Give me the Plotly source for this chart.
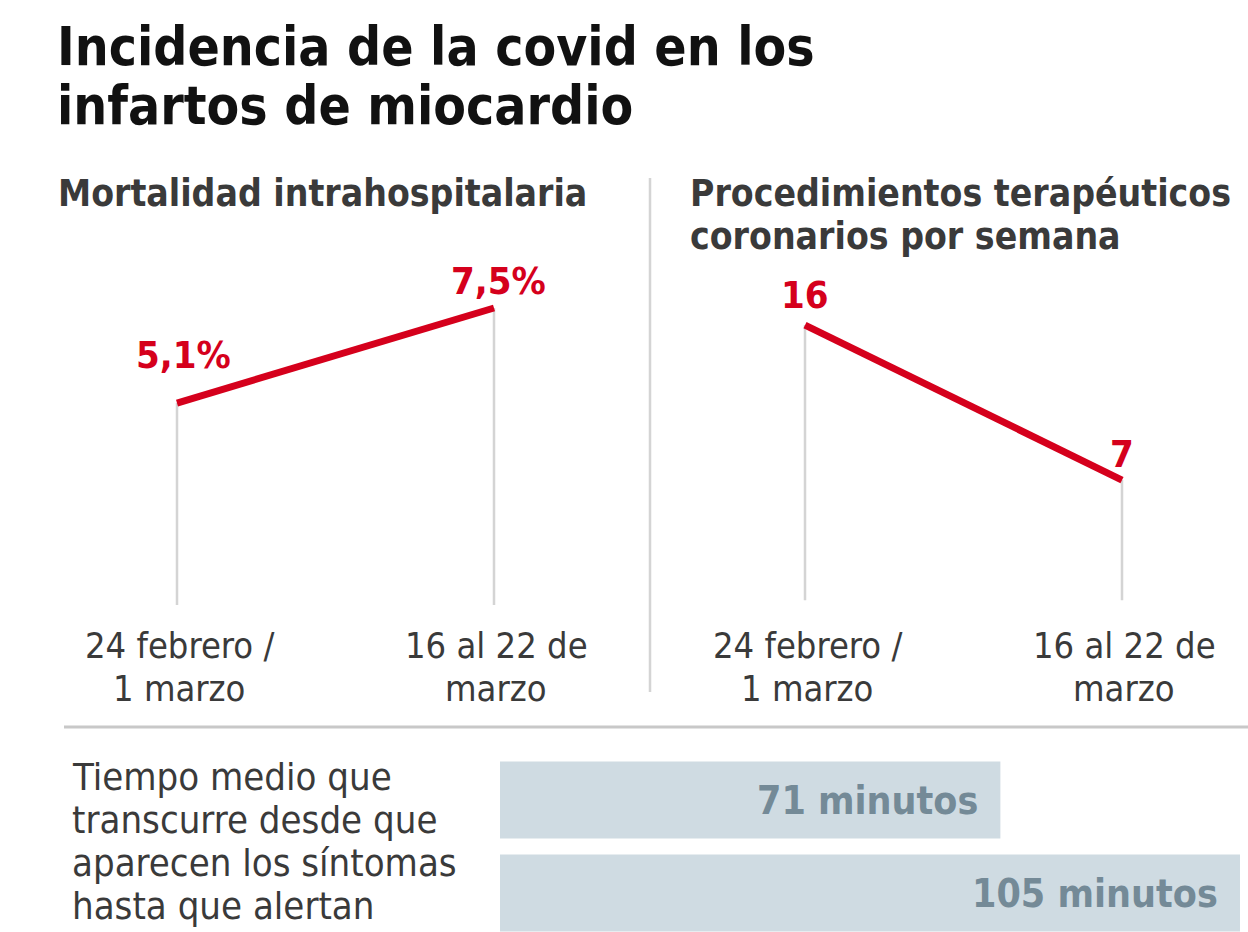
import plotly.graph_objects as go

W, H = 1248, 932

# ---- data ----
periods = ["24 febrero /<br>1 marzo", "16 al 22 de<br>marzo"]
mortalidad = [5.1, 7.5]
mortalidad_labels = ["5,1%", "7,5%"]
procedimientos = [16, 7]
procedimientos_labels = ["16", "7"]
tiempo_labels = ["71 minutos", "105 minutos"]
tiempo_values = [71, 105]

title_lines = ["Incidencia de la covid en los", "infartos de miocardio"]
sub_left = ["Mortalidad intrahospitalaria"]
sub_right = ["Procedimientos terapéuticos", "coronarios por semana"]
bottom_lines = ["Tiempo medio que", "transcurre desde que", "aparecen los síntomas", "hasta que alertan"]

RED = "#d5001c"
GREY_LINE = "#d4d4d4"
TXT = "#3a3a3a"
BAR = "#cfdbe2"
BAR_TXT = "#748a97"
FONT = "DejaVu Sans Condensed, DejaVu Sans, sans-serif"


def px(x):
    return x / W


def py(y):
    return 1 - y / H


fig = go.Figure()

xs = [0, 1]
# left panel
for i, v in enumerate(mortalidad):
    fig.add_trace(go.Scatter(x=[xs[i], xs[i]], y=[0, v], mode="lines",
                             line=dict(color=GREY_LINE, width=2.5),
                             xaxis="x", yaxis="y", showlegend=False, hoverinfo="skip"))
fig.add_trace(go.Scatter(x=xs, y=mortalidad, mode="lines",
                         line=dict(color=RED, width=7), xaxis="x", yaxis="y",
                         showlegend=False))
# right panel
for i, v in enumerate(procedimientos):
    fig.add_trace(go.Scatter(x=[xs[i], xs[i]], y=[0, v], mode="lines",
                             line=dict(color=GREY_LINE, width=2.5),
                             xaxis="x2", yaxis="y2", showlegend=False, hoverinfo="skip"))
fig.add_trace(go.Scatter(x=xs, y=procedimientos, mode="lines",
                         line=dict(color=RED, width=7), xaxis="x2", yaxis="y2",
                         showlegend=False))
# bars
fig.add_trace(go.Bar(x=tiempo_values, y=[0, 1], orientation="h", width=0.83,
                     marker=dict(color=BAR, line=dict(width=0)),
                     xaxis="x3", yaxis="y3", showlegend=False))

ann = []


def text_at(s, x, y, size, color, bold=False, xanchor="left"):
    ann.append(dict(text=("<b>%s</b>" % s) if bold else s, x=px(x), y=py(y),
                    xref="paper", yref="paper", xanchor=xanchor, yanchor="middle",
                    showarrow=False, font=dict(family=FONT, size=size, color=color)))


# title
for i, s in enumerate(title_lines):
    text_at(s, 55, 46 + i * 59, 53, "#111111", bold=True)
# subtitles
for i, s in enumerate(sub_left):
    text_at(s, 56, 193 + i * 44, 37, TXT, bold=True)
for i, s in enumerate(sub_right):
    text_at(s, 688, 193 + i * 44, 37, TXT, bold=True)

# value labels
ann.append(dict(text="<b>%s</b>" % mortalidad_labels[0], x=xs[0], y=mortalidad[0], xref="x", yref="y",
                showarrow=False, yshift=48, xshift=6, font=dict(family=FONT, size=38, color=RED)))
ann.append(dict(text="<b>%s</b>" % mortalidad_labels[1], x=xs[1], y=mortalidad[1], xref="x", yref="y",
                showarrow=False, yshift=27, xshift=4, font=dict(family=FONT, size=38, color=RED)))
ann.append(dict(text="<b>%s</b>" % procedimientos_labels[0], x=xs[0], y=procedimientos[0], xref="x2", yref="y2",
                showarrow=False, yshift=30, font=dict(family=FONT, size=38, color=RED)))
ann.append(dict(text="<b>%s</b>" % procedimientos_labels[1], x=xs[1], y=procedimientos[1], xref="x2", yref="y2",
                showarrow=False, yshift=26, font=dict(family=FONT, size=38, color=RED)))

# category labels
for xr in ["x", "x2"]:
    for i, lab in enumerate(periods):
        for j, part in enumerate(lab.split("<br>")):
            ann.append(dict(text=part, x=xs[i], y=py(645 + j * 43), xref=xr, yref="paper",
                            yanchor="middle", xshift=2, showarrow=False,
                            font=dict(family=FONT, size=36, color=TXT)))

# bottom text
for i, s in enumerate(bottom_lines):
    text_at(s, 70, 777 + i * 43, 38, TXT)

for i, (v, lab) in enumerate(zip(tiempo_values, tiempo_labels)):
    ann.append(dict(text="<b>%s</b>" % lab, x=v, y=i, xref="x3", yref="y3",
                    xanchor="right", yanchor="middle", xshift=-20, showarrow=False,
                    font=dict(family=FONT, size=39, color=BAR_TXT)))

shapes = [
    dict(type="line", xref="paper", yref="paper", x0=px(650), x1=px(650), y0=py(178), y1=py(692),
         line=dict(color=GREY_LINE, width=2.5)),
    dict(type="line", xref="paper", yref="paper", x0=px(64), x1=px(1248), y0=py(727), y1=py(727),
         line=dict(color="#c8c8c8", width=3)),
]

axis_off = dict(visible=False, showgrid=False, zeroline=False, fixedrange=True)
fig.update_layout(
    width=W, height=H, margin=dict(l=0, r=0, t=0, b=0),
    paper_bgcolor="white", plot_bgcolor="white",
    xaxis=dict(axis_off, domain=[px(97.75), px(573.25)], range=[-0.25, 1.25]),
    yaxis=dict(axis_off, domain=[py(605), py(290)], range=[0, (605 - 290) / 39.6]),
    xaxis2=dict(axis_off, domain=[px(725.75), px(1201.25)], range=[-0.25, 1.25]),
    yaxis2=dict(axis_off, domain=[py(600.6), py(290)], range=[0, (600.6 - 290) / 17.22]),
    xaxis3=dict(axis_off, domain=[px(500), px(1240)], range=[0, 105]),
    yaxis3=dict(axis_off, domain=[0, py(753.5)], range=[-0.5 + 178.5 / 93, -0.5]),
    annotations=ann, shapes=shapes, showlegend=False,
)

fig.write_html("out.html")
